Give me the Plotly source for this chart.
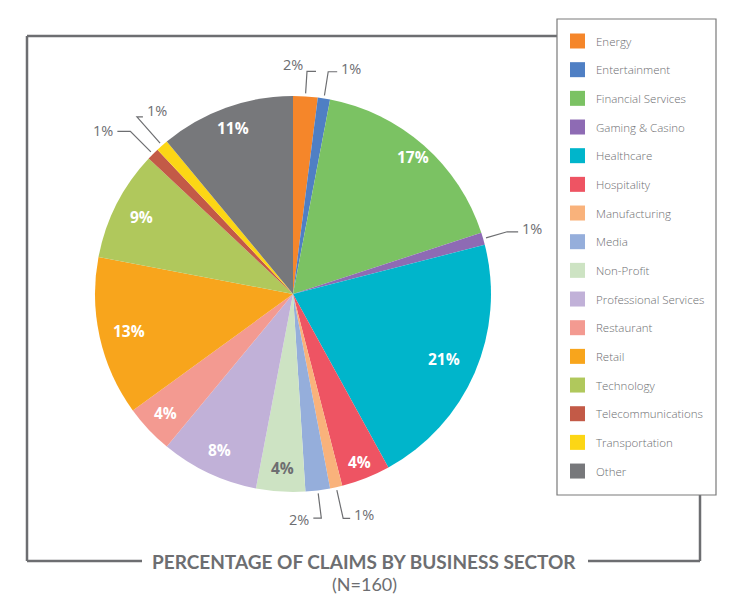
import math
import plotly.graph_objects as go

# ---------------- data ----------------
sectors = ["Energy", "Entertainment", "Financial Services", "Gaming & Casino",
           "Healthcare", "Hospitality", "Manufacturing", "Media", "Non-Profit",
           "Professional Services", "Restaurant", "Retail", "Technology",
           "Telecommunications", "Transportation", "Other"]
percent = [2, 1, 17, 1, 21, 4, 1, 2, 4, 8, 4, 13, 9, 1, 1, 11]
colors = ["#f5862a", "#4f7fc4", "#7bc263", "#8e6bb4", "#00b5cb", "#ee5463",
          "#f9b27b", "#95aedb", "#cde3c3", "#c1b1d8", "#f39a91", "#f8a51c",
          "#b0c85c", "#c35a47", "#fcd615", "#77787b"]
title_text = "PERCENTAGE OF CLAIMS BY BUSINESS SECTOR"
subtitle_text = "(N=160)"

# ---------------- geometry / style ----------------
# page body has an 8px margin; figure is sized to fit inside it
OFF = 8
W, H = 742 - 2 * OFF, 611 - 2 * OFF
cx, cy, R = 293, 294, 198
GRAY = "#6d6e71"


def px(x):
    return (x - OFF) / W


def py(y):
    return 1 - (y - OFF) / H


fig = go.Figure(go.Pie(
    labels=sectors, values=percent, sort=False, direction="clockwise",
    rotation=0, marker=dict(colors=colors, line=dict(width=0)),
    textinfo="none", hoverinfo="label+percent", showlegend=False,
    domain=dict(x=[px(cx - R), px(cx + R)], y=[py(cy + R), py(cy - R)]),
))

annotations = []
shapes = []

# leader-line styling for small slices: (radial extension, horizontal dir, horizontal len, text side, text dx, text dy)
leader = {
    "Energy": (25, 1, 9, "right", -2, -7),
    "Entertainment": (27, 1, 9, "left", 2, -3),
    "Gaming & Casino": (25, 1, 11, "left", 2, -3),
    "Manufacturing": (32, 1, 7, "left", 2, -4),
    "Media": (28, -1, 8, "right", -2, 1),
    "Telecommunications": (32, -1, 13, "right", -2, -1),
    "Transportation": (38, 1, 6, "left", 2, -6),
}
# radial placement of inside labels (fraction of radius)
inside_r = {
    "Financial Services": 0.92, "Healthcare": 0.83, "Hospitality": 0.91,
    "Non-Profit": 0.88, "Professional Services": 0.87, "Restaurant": 0.88,
    "Retail": 0.85, "Technology": 0.86, "Other": 0.89,
}

total = sum(percent)
cum = 0
for name, p, col in zip(sectors, percent, colors):
    mid = (cum + p / 2) / total * 2 * math.pi
    cum += p
    s, c = math.sin(mid), math.cos(mid)
    if name in leader:
        ext, hdir, hlen, side, tdx, tdy = leader[name]
        x0, y0 = cx + (R + 3) * s, cy - (R + 3) * c
        x1, y1 = cx + (R + ext) * s, cy - (R + ext) * c
        x2, y2 = x1 + hdir * hlen, y1
        shapes.append(dict(type="path", xref="paper", yref="paper",
                           path=f"M {px(x0)},{py(y0)} L {px(x1)},{py(y1)} L {px(x2)},{py(y2)}",
                           line=dict(color=GRAY, width=1.2)))
        if side == "left":
            tx = max(x1, x2) + tdx
            xanchor = "left"
        else:
            tx = min(x1, x2) + tdx
            xanchor = "right"
        annotations.append(dict(x=px(tx), y=py(y1 + tdy), xref="paper", yref="paper",
                                text=f"{p}%", showarrow=False, xanchor=xanchor, yanchor="middle",
                                font=dict(family="Open Sans", size=14.5, color=GRAY)))
    else:
        r = inside_r.get(name, 0.87) * R
        tcol = GRAY if name == "Non-Profit" else "white"
        annotations.append(dict(x=px(cx + r * s), y=py(cy - r * c), xref="paper", yref="paper",
                                text=f"<b>{p}%</b>", showarrow=False,
                                xanchor="center", yanchor="middle",
                                font=dict(family="Open Sans", size=15.5, color=tcol)))

# ---------------- frame ----------------
FL, FT, FR, FB = 27, 36, 700, 561
LG_L, LG_T, LG_R, LG_B = 557, 19, 716, 495
frame_w = 2.5
for (xa, ya, xb, yb) in [(FL, FT, LG_L, FT), (FL, FT, FL, FB), (FL, FB, 142, FB),
                         (588, FB, FR, FB), (FR, LG_B, FR, FB)]:
    shapes.append(dict(type="line", xref="paper", yref="paper",
                       x0=px(xa), y0=py(ya), x1=px(xb), y1=py(yb),
                       line=dict(color=GRAY, width=frame_w)))

# legend box
shapes.append(dict(type="rect", xref="paper", yref="paper",
                   x0=px(LG_L), y0=py(LG_B), x1=px(LG_R), y1=py(LG_T),
                   line=dict(color="#7a7a7a", width=1.2), fillcolor="white"))
step = 28.67
for i, (name, col) in enumerate(zip(sectors, colors)):
    yc = 41 + i * step
    shapes.append(dict(type="rect", xref="paper", yref="paper",
                       x0=px(570), x1=px(585), y0=py(yc + 7.5), y1=py(yc - 7.5),
                       line=dict(width=0), fillcolor=col))
    annotations.append(dict(x=px(594), y=py(yc), xref="paper", yref="paper",
                            text=name, showarrow=False, xanchor="left", yanchor="middle",
                            font=dict(family="Open Sans", size=11.5, color=GRAY, weight=300)))

# title
annotations.append(dict(x=px(364), y=py(561), xref="paper", yref="paper", text=f"<b>{title_text}</b>",
                        showarrow=False, xanchor="center", yanchor="middle",
                        font=dict(family="Lato", size=19, color=GRAY)))
annotations.append(dict(x=px(364), y=py(584), xref="paper", yref="paper", text=subtitle_text,
                        showarrow=False, xanchor="center", yanchor="middle",
                        font=dict(family="Lato", size=18, color=GRAY)))

fig.update_layout(width=W, height=H, margin=dict(l=0, r=0, t=0, b=0),
                  paper_bgcolor="white", plot_bgcolor="white",
                  shapes=shapes, annotations=annotations)

fig.write_html("out.html")
